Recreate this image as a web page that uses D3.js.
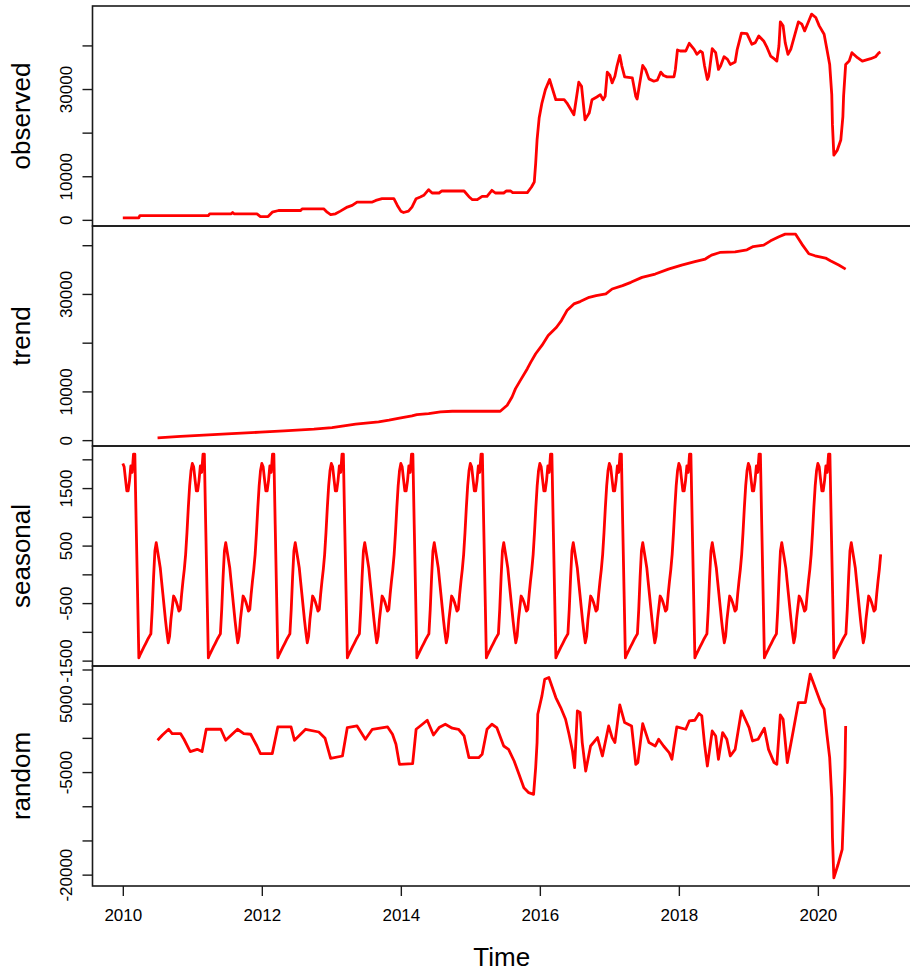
<!DOCTYPE html>
<html>
<head>
<meta charset="utf-8">
<script src="https://cdn.jsdelivr.net/npm/d3@7"></script>
<style>
  body { margin: 0; background: #fff; }
  text { font-family: "Liberation Sans", Arial, sans-serif; fill: #000; }
</style>
</head>
<body>
<div id="chart"></div>
<script>
// weekly series (frequency 52), Jan 2010 .. Nov 2020
var startYear = 2010, weeksPerYear = 52, nWeeks = 568;

// observed: [year, value]
var observedPoints = [
  [2010.00,460],[2010.23,460],[2010.245,990],[2011.23,990],[2011.25,1390],[2011.56,1390],[2011.58,1690],
  [2011.60,1390],[2011.93,1390],[2011.98,760],[2012.09,760],[2012.15,1760],[2012.24,2150],[2012.56,2150],
  [2012.58,2540],[2012.89,2540],[2012.94,1760],[2012.99,1220],[2013.06,1390],[2013.13,2000],[2013.23,2930],
  [2013.30,3310],[2013.37,4070],[2013.59,4070],[2013.64,4460],[2013.73,4850],[2013.90,4850],[2013.95,3310],
  [2014.00,2000],[2014.04,1690],[2014.11,2000],[2014.16,2930],[2014.22,4850],[2014.28,5240],[2014.33,5620],
  [2014.40,6930],[2014.45,6160],[2014.55,6160],[2014.59,6620],[2014.91,6620],[2014.98,5310],[2015.03,4620],
  [2015.10,4620],[2015.17,5380],[2015.24,5380],[2015.31,6770],[2015.36,6160],[2015.48,6160],[2015.52,6620],
  [2015.58,6620],[2015.61,6240],[2015.82,6240],[2015.88,7530],[2015.92,8690],[2015.94,12930],[2015.96,18320],
  [2015.99,23330],[2016.03,26790],[2016.08,29870],[2016.14,32180],[2016.23,27550],[2016.35,27550],[2016.39,26790],
  [2016.49,24090],[2016.56,31560],[2016.60,30640],[2016.65,22940],[2016.71,24480],[2016.75,27550],[2016.82,28170],
  [2016.87,28710],[2016.91,27550],[2016.94,28320],[2016.97,33870],[2017.01,33100],[2017.04,31400],[2017.08,32950],
  [2017.11,35260],[2017.15,37720],[2017.18,35260],[2017.22,32800],[2017.33,32570],[2017.38,28320],[2017.40,27700],
  [2017.43,30630],[2017.48,35410],[2017.52,34480],[2017.57,32330],[2017.64,31790],[2017.69,32020],[2017.74,33870],
  [2017.78,33100],[2017.83,32800],[2017.93,32800],[2017.95,34490],[2017.98,38950],[2018.02,38720],[2018.10,38720],
  [2018.15,40490],[2018.22,39100],[2018.26,37950],[2018.31,38720],[2018.34,38330],[2018.37,35260],[2018.41,32180],
  [2018.43,32950],[2018.48,39250],[2018.53,38330],[2018.57,34490],[2018.60,35260],[2018.65,37410],[2018.70,36800],
  [2018.74,35640],[2018.81,36180],[2018.84,39100],[2018.90,42800],[2018.98,42720],[2019.05,40260],[2019.10,40640],
  [2019.15,42180],[2019.22,41030],[2019.27,39480],[2019.32,37560],[2019.37,36950],[2019.41,36410],[2019.44,39870],
  [2019.46,45410],[2019.50,44490],[2019.53,40640],[2019.57,37950],[2019.61,39100],[2019.65,41410],[2019.72,45410],
  [2019.77,44870],[2019.81,43330],[2019.86,45250],[2019.91,47170],[2019.97,46400],[2020.02,44490],[2020.09,42570],
  [2020.13,39100],[2020.17,35640],[2020.20,28710],[2020.21,21780],[2020.23,14850],[2020.28,16000],[2020.33,18310],
  [2020.36,23700],[2020.37,28320],[2020.40,35640],[2020.45,36410],[2020.49,38330],[2020.57,37180],[2020.64,36410],
  [2020.76,36950],[2020.83,37410],[2020.88,38330],[2020.90,38490]
];

var trendPoints = [
  [2010.50,470],[2010.83,780],[2011.50,1290],[2011.98,1640],[2012.32,1910],[2012.75,2250],[2013.01,2590],
  [2013.18,2930],[2013.35,3270],[2013.68,3750],[2013.83,4090],[2014.00,4570],[2014.16,4980],[2014.23,5250],
  [2014.40,5450],[2014.57,5790],[2014.74,5930],[2015.43,5930],[2015.53,7160],[2015.60,8860],[2015.65,10570],
  [2015.72,12270],[2015.82,14660],[2015.87,16010],[2015.94,17730],[2016.03,19430],[2016.12,21470],[2016.24,23170],
  [2016.31,24540],[2016.39,26590],[2016.49,27960],[2016.58,28430],[2016.71,29300],[2016.81,29650],[2016.95,30000],
  [2017.04,31020],[2017.19,31700],[2017.31,32380],[2017.47,33400],[2017.66,34080],[2017.85,35100],[2018.04,35930],
  [2018.23,36610],[2018.38,37160],[2018.47,37980],[2018.59,38510],[2018.81,38650],[2018.98,39060],[2019.07,39730],
  [2019.22,40020],[2019.32,40900],[2019.44,41720],[2019.53,42270],[2019.68,42270],[2019.77,40230],[2019.87,38240],
  [2019.96,37830],[2020.11,37360],[2020.18,36810],[2020.30,35930],[2020.40,35100]
];

// seasonal figure, one value per week of the year
var seasonalFigure = [
  1928,1870,1655,1452,1452,1626,1887,1771,2090,2090,871,-290,-1452,-1394,-1347,-1301,-1254,-1208,
  -1161,-1115,-1074,-1034,-610,-58,406,552,406,261,116,-116,-348,-581,-813,-1016,-1190,-1074,
  -784,-581,-377,-418,-476,-552,-639,-610,-348,-116,87,348,726,1161,1539,1800
];

var randomPoints = [
  [2010.50,-350],[2010.57,420],[2010.66,1260],[2010.71,630],[2010.83,630],[2010.88,-200],[2010.97,-2000],
  [2011.07,-1670],[2011.14,-2000],[2011.20,1260],[2011.41,1260],[2011.48,-350],[2011.65,1260],[2011.74,630],
  [2011.84,530],[2011.93,-1190],[2011.98,-2300],[2012.15,-2300],[2012.23,1600],[2012.42,1600],[2012.47,-350],
  [2012.63,1260],[2012.82,860],[2012.91,-60],[2012.99,-2990],[2013.16,-2650],[2013.23,1510],[2013.37,1740],
  [2013.49,-200],[2013.59,1260],[2013.81,1600],[2013.88,530],[2013.93,-940],[2013.98,-3870],[2014.17,-3770],
  [2014.22,1260],[2014.31,1990],[2014.38,2580],[2014.47,420],[2014.55,1510],[2014.64,1990],[2014.74,1420],
  [2014.83,1260],[2014.91,280],[2014.98,-2890],[2015.12,-2890],[2015.17,-2400],[2015.24,1260],[2015.31,1990],
  [2015.38,1510],[2015.48,-1190],[2015.55,-1680],[2015.63,-3380],[2015.70,-5330],[2015.77,-7280],[2015.84,-8010],
  [2015.91,-8260],[2015.94,-4350],[2015.96,-690],[2015.97,3460],[2016.03,6140],[2016.07,8580],[2016.13,8830],
  [2016.23,5900],[2016.30,4440],[2016.37,2730],[2016.42,530],[2016.47,-1920],[2016.50,-4350],[2016.54,3940],
  [2016.58,3700],[2016.61,-690],[2016.66,-4850],[2016.73,-1190],[2016.83,40],[2016.90,-2650],[2016.99,1740],
  [2017.04,40],[2017.08,-690],[2017.15,4820],[2017.22,2240],[2017.32,1740],[2017.38,-3870],[2017.41,-3620],
  [2017.48,2090],[2017.57,-690],[2017.66,-1190],[2017.71,-200],[2017.78,-1190],[2017.86,-2150],[2017.90,-3130],
  [2017.97,1600],[2018.10,1260],[2018.15,2480],[2018.23,2580],[2018.29,3560],[2018.33,3220],[2018.37,-940],
  [2018.41,-4110],[2018.48,1010],[2018.53,280],[2018.57,-3130],[2018.63,780],[2018.69,-200],[2018.74,-2650],
  [2018.81,-1680],[2018.90,3940],[2019.01,1510],[2019.06,-450],[2019.14,-200],[2019.23,1420],[2019.29,-1680],
  [2019.37,-3620],[2019.41,-3870],[2019.46,3360],[2019.50,2730],[2019.56,-3620],[2019.61,-940],[2019.65,1260],
  [2019.72,5170],[2019.82,5170],[2019.89,9320],[2019.96,7370],[2020.04,5170],[2020.09,4190],[2020.13,530],
  [2020.17,-2890],[2020.20,-8750],[2020.21,-14610],[2020.23,-20470],[2020.29,-18520],[2020.35,-16320],
  [2020.37,-10710],[2020.39,-4350],[2020.40,1740]
];

var yearTicks = [2010, 2012, 2014, 2016, 2018, 2020];
var panelNames = ["observed", "trend", "seasonal", "random"];
var panelTicks = [
  [0, 10000, 20000, 30000, 40000],
  [0, 10000, 20000, 30000, 40000],
  [-1500, -1000, -500, 0, 500, 1000, 1500, 2000],
  [-20000, -15000, -10000, -5000, 0, 5000, 10000]
];
// labels R kept after dropping the overlapping ones
var panelLabels = [
  [0, 10000, 30000],
  [0, 10000, 30000],
  [-1500, -500, 500, 1500],
  [-20000, -5000, 5000]
];

var seasonalPoints = d3.range(nWeeks).map(function(i){
  return [startYear + i / weeksPerYear, seasonalFigure[i % weeksPerYear]];
});
var series = [observedPoints, trendPoints, seasonalPoints, randomPoints];

var width = 910, height = 971;
var marginLeft = 92.5, plotRight = 911, marginTop = 6, panelH = 220;
var ink = "#1a1a1a";

// R style axis range: data range plus 4% on each side
function pad(ext) {
  var r = ext[1] - ext[0];
  return [ext[0] - 0.04 * r, ext[1] + 0.04 * r];
}

var svg = d3.select("#chart").append("svg")
  .attr("width", width)
  .attr("height", height);

var x = d3.scaleLinear()
  .domain(pad([startYear, startYear + (nWeeks - 1) / weeksPerYear]))
  .range([marginLeft, plotRight]);

series.forEach(function(data, k) {
  var g = svg.append("g")
    .attr("transform", "translate(0," + (marginTop + k * panelH) + ")");

  var y = d3.scaleLinear()
    .domain(pad(d3.extent(data, function(d){ return d[1]; })))
    .range([panelH, 0]);

  var line = d3.line()
    .x(function(d){ return x(d[0]); })
    .y(function(d){ return y(d[1]); });

  g.append("path")
    .datum(data)
    .attr("d", line)
    .attr("fill", "none")
    .attr("stroke", "#ff0000")
    .attr("stroke-width", 2.8)
    .attr("stroke-linejoin", "round");

  g.append("rect")
    .attr("x", marginLeft)
    .attr("y", 0)
    .attr("width", plotRight - marginLeft)
    .attr("height", panelH)
    .attr("fill", "none")
    .attr("stroke", ink)
    .attr("stroke-width", 1.6);

  var labels = panelLabels[k];
  var yAxis = g.append("g")
    .attr("transform", "translate(" + marginLeft + ",0)")
    .call(d3.axisLeft(y)
      .tickValues(panelTicks[k])
      .tickSize(10)
      .tickFormat(function(d){ return labels.indexOf(d) >= 0 ? d : ""; }));
  yAxis.select(".domain").remove();
  yAxis.selectAll(".tick line").attr("stroke", ink).attr("stroke-width", 1.4);
  yAxis.selectAll(".tick text")
    .attr("transform", "rotate(-90)")
    .attr("x", 0)
    .attr("y", -20.5)
    .attr("dy", null)
    .attr("text-anchor", "middle")
    .attr("fill", "#000")
    .style("font-size", "17px");

  g.append("text")
    .attr("transform", "translate(30," + (panelH / 2) + ") rotate(-90)")
    .attr("text-anchor", "middle")
    .style("font-size", "26px")
    .text(panelNames[k]);

  if (k == series.length - 1) {
    var xAxis = g.append("g")
      .attr("transform", "translate(0," + panelH + ")")
      .call(d3.axisBottom(x)
        .tickValues(yearTicks)
        .tickSize(10)
        .tickFormat(d3.format("d")));
    xAxis.select(".domain").remove();
    xAxis.selectAll(".tick line").attr("stroke", ink).attr("stroke-width", 1.4);
    xAxis.selectAll(".tick text")
      .attr("y", 35)
      .attr("dy", null)
      .attr("fill", "#000")
      .style("font-size", "17px");
  }
});

svg.append("text")
  .attr("x", (marginLeft + plotRight) / 2)
  .attr("y", 966)
  .attr("text-anchor", "middle")
  .style("font-size", "26px")
  .text("Time");
</script>
</body>
</html>
